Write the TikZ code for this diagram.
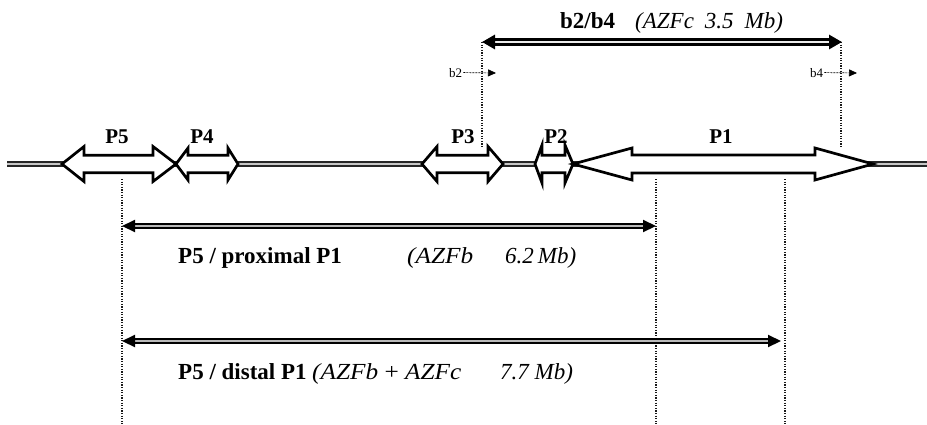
\documentclass[tikz,border=0pt]{standalone}
\usepackage{fontspec}
\setmainfont{Liberation Serif}
\usetikzlibrary{arrows.meta}
% #1 left tip, #2 left head base, #3 right head base, #4 right tip, #5 head half-height, #6 shaft half-height
\newcommand{\dblblock}[6]{%
  \draw[block] (#1,164) -- (#2,164-#5) -- (#2,164-#6) -- (#3,164-#6) -- (#3,164-#5) -- (#4,164)
     -- (#3,164+#5) -- (#3,164+#6) -- (#2,164+#6) -- (#2,164+#5) -- cycle;}
\begin{document}
\begin{tikzpicture}[x=1pt,y=-1pt,
  chrom/.style={line width=1.5pt, draw=black!85, double=gray!45, double distance=2.6pt},
  block/.style={draw=black, line width=2.7pt, fill=white, miter limit=20},
  bigspan/.style={draw=black, line width=3pt, double=gray!15, double distance=1.1pt,
     {Triangle[length=13pt,width=14pt]}-{Triangle[length=13pt,width=14pt]}},
  span/.style={draw=black, line width=2.1pt, double=gray!55, double distance=1.9pt,
     {Triangle[length=13pt,width=12pt]}-{Triangle[length=13pt,width=12pt]}},
  guide/.style={line width=1.1pt, draw=black!90, dash pattern=on 1.1pt off 1.5pt},
  smallarr/.style={dash pattern=on 2pt off 1pt, line width=0.7pt, -{Triangle[length=8pt,width=7pt]}},
  plab/.style={font=\fontsize{21}{21}\selectfont\bfseries, inner sep=0pt, anchor=base},
  big/.style={font=\fontsize{23}{23}\selectfont, inner sep=0pt, anchor=base west},
  bigb/.style={big, font=\fontsize{23}{23}\selectfont\bfseries},
  bigi/.style={big, font=\fontsize{23}{23}\selectfont\itshape},
  tiny/.style={font=\fontsize{13}{13}\selectfont, inner sep=0pt, anchor=base west}
]
\useasboundingbox (0,0) rectangle (927,424);

% chromosome
\coordinate (chL) at (7,164);
\coordinate (chR) at (927,164);
\draw[chrom] (chL) -- (chR);

% palindromic arms (double-headed block arrows)
\dblblock{62}{84}{153}{176}{17.5}{8.8}
\dblblock{176}{188}{228}{238}{16}{8.8}
\dblblock{422}{437}{488}{503}{17.5}{8.8}
\dblblock{535}{542}{565}{573}{19}{8.8}
\dblblock{573}{632}{815}{873}{16}{9}

% labels of palindromes
\node[plab] (lP5) at (117,143) {P5};
\node[plab] (lP4) at (202,143) {P4};
\node[plab] (lP3) at (463,143) {P3};
\node[plab] (lP2) at (556,143) {P2};
\node[plab] (lP1) at (721,143) {P1};

% guide lines
\coordinate (gb2t) at (482,42);  \coordinate (gb2b) at (482,148);
\coordinate (gb4t) at (841,42);  \coordinate (gb4b) at (841,148);
\coordinate (g1t) at (122,179);  \coordinate (g1b) at (122,424);
\coordinate (g2t) at (656,179);  \coordinate (g2b) at (656,424);
\coordinate (g3t) at (785,179);  \coordinate (g3b) at (785,424);
\draw[guide] (gb2t) -- (gb2b);
\draw[guide] (gb4t) -- (gb4b);
\draw[guide] (g1t) -- (g1b);
\draw[guide] (g2t) -- (g2b);
\draw[guide] (g3t) -- (g3b);

% spans
\coordinate (sL1) at (482,42);  \coordinate (sR1) at (842,42);
\coordinate (sL2) at (122,226); \coordinate (sR2) at (656,226);
\coordinate (sL3) at (122,341); \coordinate (sR3) at (781,341);
\draw[bigspan] (sL1) -- (sR1);
\draw[span] (sL2) -- (sR2);
\draw[span] (sL3) -- (sR3);

% span labels
\node[bigb] (tTopA) at (560,28) {b2/b4};
\node[bigi] (tTopB) at (635,28) {(AZFc\hspace{11pt}3.5\hspace{11pt}Mb)};

\node[bigb] (tProxA) at (178,263) {P5 / proximal P1};
\node[bigi, xscale=1.1] (tProxB) at (407,263) {(AZFb};
\node[bigi] (tProxC) at (505,263) {6.2\hspace{4pt}Mb)};

\node[bigb] (tDistA) at (178,379) {P5 / distal P1};
\node[bigi, xscale=1.1] (tDistB) at (312,379) {(AZFb {\upshape+} AZFc};
\node[bigi] (tDistE) at (500,379) {7.7 Mb)};

% breakpoints b2, b4
\node[tiny] (b2) at (449,77) {b2};
\node[tiny] (b4) at (810,77) {b4};
\coordinate (b2tip) at (496,73);
\coordinate (b4tip) at (857,73);
\draw[smallarr] ([xshift=1pt]b2.east) -- (b2tip);
\draw[smallarr] ([xshift=1pt]b4.east) -- (b4tip);
\end{tikzpicture}
\end{document}
